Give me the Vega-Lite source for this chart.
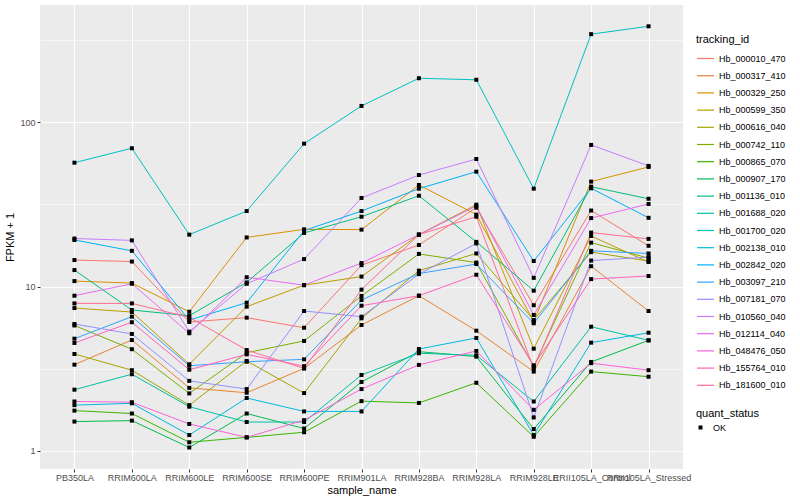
{
"$schema": "https://vega.github.io/schema/vega-lite/v6.json",
"width": 643, "height": 464,
"autosize": "none",
"padding": {"left": 40, "top": 5, "right": 117, "bottom": 31},
"background": "white",
"config": {
  "view": {"fill": "#EBEBEB", "stroke": null},
  "font": "Liberation Sans"
},
"data": {"values": [
{"tracking_id":"Hb_000010_470","sample_name":"PB350LA","fpkm1":14.5,"quant_status":"OK"},
{"tracking_id":"Hb_000010_470","sample_name":"RRIM600LA","fpkm1":14.2,"quant_status":"OK"},
{"tracking_id":"Hb_000010_470","sample_name":"RRIM600LE","fpkm1":6.09,"quant_status":"OK"},
{"tracking_id":"Hb_000010_470","sample_name":"RRIM600SE","fpkm1":6.47,"quant_status":"OK"},
{"tracking_id":"Hb_000010_470","sample_name":"RRIM600PE","fpkm1":5.62,"quant_status":"OK"},
{"tracking_id":"Hb_000010_470","sample_name":"RRIM901LA","fpkm1":13.5,"quant_status":"OK"},
{"tracking_id":"Hb_000010_470","sample_name":"RRIM928BA","fpkm1":17.9,"quant_status":"OK"},
{"tracking_id":"Hb_000010_470","sample_name":"RRIM928LA","fpkm1":30.2,"quant_status":"OK"},
{"tracking_id":"Hb_000010_470","sample_name":"RRIM928LE","fpkm1":7.7,"quant_status":"OK"},
{"tracking_id":"Hb_000010_470","sample_name":"RRII105LA_Control","fpkm1":29.0,"quant_status":"OK"},
{"tracking_id":"Hb_000010_470","sample_name":"RRII105LA_Stressed","fpkm1":17.7,"quant_status":"OK"},
{"tracking_id":"Hb_000317_410","sample_name":"PB350LA","fpkm1":3.35,"quant_status":"OK"},
{"tracking_id":"Hb_000317_410","sample_name":"RRIM600LA","fpkm1":4.73,"quant_status":"OK"},
{"tracking_id":"Hb_000317_410","sample_name":"RRIM600LE","fpkm1":2.42,"quant_status":"OK"},
{"tracking_id":"Hb_000317_410","sample_name":"RRIM600SE","fpkm1":2.26,"quant_status":"OK"},
{"tracking_id":"Hb_000317_410","sample_name":"RRIM600PE","fpkm1":3.18,"quant_status":"OK"},
{"tracking_id":"Hb_000317_410","sample_name":"RRIM901LA","fpkm1":5.84,"quant_status":"OK"},
{"tracking_id":"Hb_000317_410","sample_name":"RRIM928BA","fpkm1":8.8,"quant_status":"OK"},
{"tracking_id":"Hb_000317_410","sample_name":"RRIM928LA","fpkm1":5.39,"quant_status":"OK"},
{"tracking_id":"Hb_000317_410","sample_name":"RRIM928LE","fpkm1":3.04,"quant_status":"OK"},
{"tracking_id":"Hb_000317_410","sample_name":"RRII105LA_Control","fpkm1":13.3,"quant_status":"OK"},
{"tracking_id":"Hb_000317_410","sample_name":"RRII105LA_Stressed","fpkm1":7.1,"quant_status":"OK"},
{"tracking_id":"Hb_000329_250","sample_name":"PB350LA","fpkm1":10.8,"quant_status":"OK"},
{"tracking_id":"Hb_000329_250","sample_name":"RRIM600LA","fpkm1":10.5,"quant_status":"OK"},
{"tracking_id":"Hb_000329_250","sample_name":"RRIM600LE","fpkm1":7.03,"quant_status":"OK"},
{"tracking_id":"Hb_000329_250","sample_name":"RRIM600SE","fpkm1":19.9,"quant_status":"OK"},
{"tracking_id":"Hb_000329_250","sample_name":"RRIM600PE","fpkm1":22.3,"quant_status":"OK"},
{"tracking_id":"Hb_000329_250","sample_name":"RRIM901LA","fpkm1":22.2,"quant_status":"OK"},
{"tracking_id":"Hb_000329_250","sample_name":"RRIM928BA","fpkm1":41.5,"quant_status":"OK"},
{"tracking_id":"Hb_000329_250","sample_name":"RRIM928LA","fpkm1":27.4,"quant_status":"OK"},
{"tracking_id":"Hb_000329_250","sample_name":"RRIM928LE","fpkm1":6.12,"quant_status":"OK"},
{"tracking_id":"Hb_000329_250","sample_name":"RRII105LA_Control","fpkm1":43.5,"quant_status":"OK"},
{"tracking_id":"Hb_000329_250","sample_name":"RRII105LA_Stressed","fpkm1":53.4,"quant_status":"OK"},
{"tracking_id":"Hb_000599_350","sample_name":"PB350LA","fpkm1":7.4,"quant_status":"OK"},
{"tracking_id":"Hb_000599_350","sample_name":"RRIM600LA","fpkm1":7.0,"quant_status":"OK"},
{"tracking_id":"Hb_000599_350","sample_name":"RRIM600LE","fpkm1":3.37,"quant_status":"OK"},
{"tracking_id":"Hb_000599_350","sample_name":"RRIM600SE","fpkm1":7.55,"quant_status":"OK"},
{"tracking_id":"Hb_000599_350","sample_name":"RRIM600PE","fpkm1":10.2,"quant_status":"OK"},
{"tracking_id":"Hb_000599_350","sample_name":"RRIM901LA","fpkm1":11.5,"quant_status":"OK"},
{"tracking_id":"Hb_000599_350","sample_name":"RRIM928BA","fpkm1":20.7,"quant_status":"OK"},
{"tracking_id":"Hb_000599_350","sample_name":"RRIM928LA","fpkm1":31.5,"quant_status":"OK"},
{"tracking_id":"Hb_000599_350","sample_name":"RRIM928LE","fpkm1":4.19,"quant_status":"OK"},
{"tracking_id":"Hb_000599_350","sample_name":"RRII105LA_Control","fpkm1":20.3,"quant_status":"OK"},
{"tracking_id":"Hb_000599_350","sample_name":"RRII105LA_Stressed","fpkm1":14.1,"quant_status":"OK"},
{"tracking_id":"Hb_000616_040","sample_name":"PB350LA","fpkm1":3.89,"quant_status":"OK"},
{"tracking_id":"Hb_000616_040","sample_name":"RRIM600LA","fpkm1":3.10,"quant_status":"OK"},
{"tracking_id":"Hb_000616_040","sample_name":"RRIM600LE","fpkm1":1.90,"quant_status":"OK"},
{"tracking_id":"Hb_000616_040","sample_name":"RRIM600SE","fpkm1":3.53,"quant_status":"OK"},
{"tracking_id":"Hb_000616_040","sample_name":"RRIM600PE","fpkm1":2.25,"quant_status":"OK"},
{"tracking_id":"Hb_000616_040","sample_name":"RRIM901LA","fpkm1":6.41,"quant_status":"OK"},
{"tracking_id":"Hb_000616_040","sample_name":"RRIM928BA","fpkm1":12.5,"quant_status":"OK"},
{"tracking_id":"Hb_000616_040","sample_name":"RRIM928LA","fpkm1":15.9,"quant_status":"OK"},
{"tracking_id":"Hb_000616_040","sample_name":"RRIM928LE","fpkm1":6.26,"quant_status":"OK"},
{"tracking_id":"Hb_000616_040","sample_name":"RRII105LA_Control","fpkm1":16.2,"quant_status":"OK"},
{"tracking_id":"Hb_000616_040","sample_name":"RRII105LA_Stressed","fpkm1":14.3,"quant_status":"OK"},
{"tracking_id":"Hb_000742_110","sample_name":"PB350LA","fpkm1":5.8,"quant_status":"OK"},
{"tracking_id":"Hb_000742_110","sample_name":"RRIM600LA","fpkm1":4.16,"quant_status":"OK"},
{"tracking_id":"Hb_000742_110","sample_name":"RRIM600LE","fpkm1":2.24,"quant_status":"OK"},
{"tracking_id":"Hb_000742_110","sample_name":"RRIM600SE","fpkm1":3.96,"quant_status":"OK"},
{"tracking_id":"Hb_000742_110","sample_name":"RRIM600PE","fpkm1":4.67,"quant_status":"OK"},
{"tracking_id":"Hb_000742_110","sample_name":"RRIM901LA","fpkm1":8.77,"quant_status":"OK"},
{"tracking_id":"Hb_000742_110","sample_name":"RRIM928BA","fpkm1":15.8,"quant_status":"OK"},
{"tracking_id":"Hb_000742_110","sample_name":"RRIM928LA","fpkm1":14.0,"quant_status":"OK"},
{"tracking_id":"Hb_000742_110","sample_name":"RRIM928LE","fpkm1":3.26,"quant_status":"OK"},
{"tracking_id":"Hb_000742_110","sample_name":"RRII105LA_Control","fpkm1":18.5,"quant_status":"OK"},
{"tracking_id":"Hb_000742_110","sample_name":"RRII105LA_Stressed","fpkm1":14.9,"quant_status":"OK"},
{"tracking_id":"Hb_000865_070","sample_name":"PB350LA","fpkm1":1.76,"quant_status":"OK"},
{"tracking_id":"Hb_000865_070","sample_name":"RRIM600LA","fpkm1":1.69,"quant_status":"OK"},
{"tracking_id":"Hb_000865_070","sample_name":"RRIM600LE","fpkm1":1.13,"quant_status":"OK"},
{"tracking_id":"Hb_000865_070","sample_name":"RRIM600SE","fpkm1":1.21,"quant_status":"OK"},
{"tracking_id":"Hb_000865_070","sample_name":"RRIM600PE","fpkm1":1.30,"quant_status":"OK"},
{"tracking_id":"Hb_000865_070","sample_name":"RRIM901LA","fpkm1":2.01,"quant_status":"OK"},
{"tracking_id":"Hb_000865_070","sample_name":"RRIM928BA","fpkm1":1.96,"quant_status":"OK"},
{"tracking_id":"Hb_000865_070","sample_name":"RRIM928LA","fpkm1":2.60,"quant_status":"OK"},
{"tracking_id":"Hb_000865_070","sample_name":"RRIM928LE","fpkm1":1.22,"quant_status":"OK"},
{"tracking_id":"Hb_000865_070","sample_name":"RRII105LA_Control","fpkm1":3.04,"quant_status":"OK"},
{"tracking_id":"Hb_000865_070","sample_name":"RRII105LA_Stressed","fpkm1":2.83,"quant_status":"OK"},
{"tracking_id":"Hb_000907_170","sample_name":"PB350LA","fpkm1":1.51,"quant_status":"OK"},
{"tracking_id":"Hb_000907_170","sample_name":"RRIM600LA","fpkm1":1.53,"quant_status":"OK"},
{"tracking_id":"Hb_000907_170","sample_name":"RRIM600LE","fpkm1":1.05,"quant_status":"OK"},
{"tracking_id":"Hb_000907_170","sample_name":"RRIM600SE","fpkm1":1.69,"quant_status":"OK"},
{"tracking_id":"Hb_000907_170","sample_name":"RRIM600PE","fpkm1":1.37,"quant_status":"OK"},
{"tracking_id":"Hb_000907_170","sample_name":"RRIM901LA","fpkm1":2.63,"quant_status":"OK"},
{"tracking_id":"Hb_000907_170","sample_name":"RRIM928BA","fpkm1":4.02,"quant_status":"OK"},
{"tracking_id":"Hb_000907_170","sample_name":"RRIM928LA","fpkm1":3.75,"quant_status":"OK"},
{"tracking_id":"Hb_000907_170","sample_name":"RRIM928LE","fpkm1":1.36,"quant_status":"OK"},
{"tracking_id":"Hb_000907_170","sample_name":"RRII105LA_Control","fpkm1":3.48,"quant_status":"OK"},
{"tracking_id":"Hb_000907_170","sample_name":"RRII105LA_Stressed","fpkm1":4.71,"quant_status":"OK"},
{"tracking_id":"Hb_001136_010","sample_name":"PB350LA","fpkm1":12.6,"quant_status":"OK"},
{"tracking_id":"Hb_001136_010","sample_name":"RRIM600LA","fpkm1":7.2,"quant_status":"OK"},
{"tracking_id":"Hb_001136_010","sample_name":"RRIM600LE","fpkm1":6.65,"quant_status":"OK"},
{"tracking_id":"Hb_001136_010","sample_name":"RRIM600SE","fpkm1":10.6,"quant_status":"OK"},
{"tracking_id":"Hb_001136_010","sample_name":"RRIM600PE","fpkm1":21.2,"quant_status":"OK"},
{"tracking_id":"Hb_001136_010","sample_name":"RRIM901LA","fpkm1":26.6,"quant_status":"OK"},
{"tracking_id":"Hb_001136_010","sample_name":"RRIM928BA","fpkm1":35.7,"quant_status":"OK"},
{"tracking_id":"Hb_001136_010","sample_name":"RRIM928LA","fpkm1":18.7,"quant_status":"OK"},
{"tracking_id":"Hb_001136_010","sample_name":"RRIM928LE","fpkm1":9.44,"quant_status":"OK"},
{"tracking_id":"Hb_001136_010","sample_name":"RRII105LA_Control","fpkm1":40.5,"quant_status":"OK"},
{"tracking_id":"Hb_001136_010","sample_name":"RRII105LA_Stressed","fpkm1":34.2,"quant_status":"OK"},
{"tracking_id":"Hb_001688_020","sample_name":"PB350LA","fpkm1":2.36,"quant_status":"OK"},
{"tracking_id":"Hb_001688_020","sample_name":"RRIM600LA","fpkm1":2.93,"quant_status":"OK"},
{"tracking_id":"Hb_001688_020","sample_name":"RRIM600LE","fpkm1":1.86,"quant_status":"OK"},
{"tracking_id":"Hb_001688_020","sample_name":"RRIM600SE","fpkm1":1.50,"quant_status":"OK"},
{"tracking_id":"Hb_001688_020","sample_name":"RRIM600PE","fpkm1":1.50,"quant_status":"OK"},
{"tracking_id":"Hb_001688_020","sample_name":"RRIM901LA","fpkm1":2.90,"quant_status":"OK"},
{"tracking_id":"Hb_001688_020","sample_name":"RRIM928BA","fpkm1":3.93,"quant_status":"OK"},
{"tracking_id":"Hb_001688_020","sample_name":"RRIM928LA","fpkm1":3.82,"quant_status":"OK"},
{"tracking_id":"Hb_001688_020","sample_name":"RRIM928LE","fpkm1":2.0,"quant_status":"OK"},
{"tracking_id":"Hb_001688_020","sample_name":"RRII105LA_Control","fpkm1":5.70,"quant_status":"OK"},
{"tracking_id":"Hb_001688_020","sample_name":"RRII105LA_Stressed","fpkm1":4.71,"quant_status":"OK"},
{"tracking_id":"Hb_001700_020","sample_name":"PB350LA","fpkm1":56.7,"quant_status":"OK"},
{"tracking_id":"Hb_001700_020","sample_name":"RRIM600LA","fpkm1":69.4,"quant_status":"OK"},
{"tracking_id":"Hb_001700_020","sample_name":"RRIM600LE","fpkm1":20.7,"quant_status":"OK"},
{"tracking_id":"Hb_001700_020","sample_name":"RRIM600SE","fpkm1":28.8,"quant_status":"OK"},
{"tracking_id":"Hb_001700_020","sample_name":"RRIM600PE","fpkm1":74,"quant_status":"OK"},
{"tracking_id":"Hb_001700_020","sample_name":"RRIM901LA","fpkm1":125.5,"quant_status":"OK"},
{"tracking_id":"Hb_001700_020","sample_name":"RRIM928BA","fpkm1":185,"quant_status":"OK"},
{"tracking_id":"Hb_001700_020","sample_name":"RRIM928LA","fpkm1":181,"quant_status":"OK"},
{"tracking_id":"Hb_001700_020","sample_name":"RRIM928LE","fpkm1":39.4,"quant_status":"OK"},
{"tracking_id":"Hb_001700_020","sample_name":"RRII105LA_Control","fpkm1":343,"quant_status":"OK"},
{"tracking_id":"Hb_001700_020","sample_name":"RRII105LA_Stressed","fpkm1":383,"quant_status":"OK"},
{"tracking_id":"Hb_002138_010","sample_name":"PB350LA","fpkm1":1.90,"quant_status":"OK"},
{"tracking_id":"Hb_002138_010","sample_name":"RRIM600LA","fpkm1":1.95,"quant_status":"OK"},
{"tracking_id":"Hb_002138_010","sample_name":"RRIM600LE","fpkm1":1.25,"quant_status":"OK"},
{"tracking_id":"Hb_002138_010","sample_name":"RRIM600SE","fpkm1":2.10,"quant_status":"OK"},
{"tracking_id":"Hb_002138_010","sample_name":"RRIM600PE","fpkm1":1.74,"quant_status":"OK"},
{"tracking_id":"Hb_002138_010","sample_name":"RRIM901LA","fpkm1":1.74,"quant_status":"OK"},
{"tracking_id":"Hb_002138_010","sample_name":"RRIM928BA","fpkm1":4.17,"quant_status":"OK"},
{"tracking_id":"Hb_002138_010","sample_name":"RRIM928LA","fpkm1":4.87,"quant_status":"OK"},
{"tracking_id":"Hb_002138_010","sample_name":"RRIM928LE","fpkm1":1.25,"quant_status":"OK"},
{"tracking_id":"Hb_002138_010","sample_name":"RRII105LA_Control","fpkm1":4.56,"quant_status":"OK"},
{"tracking_id":"Hb_002138_010","sample_name":"RRII105LA_Stressed","fpkm1":5.24,"quant_status":"OK"},
{"tracking_id":"Hb_002842_020","sample_name":"PB350LA","fpkm1":19.2,"quant_status":"OK"},
{"tracking_id":"Hb_002842_020","sample_name":"RRIM600LA","fpkm1":16.5,"quant_status":"OK"},
{"tracking_id":"Hb_002842_020","sample_name":"RRIM600LE","fpkm1":6.26,"quant_status":"OK"},
{"tracking_id":"Hb_002842_020","sample_name":"RRIM600SE","fpkm1":7.98,"quant_status":"OK"},
{"tracking_id":"Hb_002842_020","sample_name":"RRIM600PE","fpkm1":21.9,"quant_status":"OK"},
{"tracking_id":"Hb_002842_020","sample_name":"RRIM901LA","fpkm1":28.8,"quant_status":"OK"},
{"tracking_id":"Hb_002842_020","sample_name":"RRIM928BA","fpkm1":39.4,"quant_status":"OK"},
{"tracking_id":"Hb_002842_020","sample_name":"RRIM928LA","fpkm1":50,"quant_status":"OK"},
{"tracking_id":"Hb_002842_020","sample_name":"RRIM928LE","fpkm1":14.3,"quant_status":"OK"},
{"tracking_id":"Hb_002842_020","sample_name":"RRII105LA_Control","fpkm1":39.6,"quant_status":"OK"},
{"tracking_id":"Hb_002842_020","sample_name":"RRII105LA_Stressed","fpkm1":26.2,"quant_status":"OK"},
{"tracking_id":"Hb_003097_210","sample_name":"PB350LA","fpkm1":4.82,"quant_status":"OK"},
{"tracking_id":"Hb_003097_210","sample_name":"RRIM600LA","fpkm1":6.56,"quant_status":"OK"},
{"tracking_id":"Hb_003097_210","sample_name":"RRIM600LE","fpkm1":3.3,"quant_status":"OK"},
{"tracking_id":"Hb_003097_210","sample_name":"RRIM600SE","fpkm1":3.49,"quant_status":"OK"},
{"tracking_id":"Hb_003097_210","sample_name":"RRIM600PE","fpkm1":3.61,"quant_status":"OK"},
{"tracking_id":"Hb_003097_210","sample_name":"RRIM901LA","fpkm1":8.28,"quant_status":"OK"},
{"tracking_id":"Hb_003097_210","sample_name":"RRIM928BA","fpkm1":12.0,"quant_status":"OK"},
{"tracking_id":"Hb_003097_210","sample_name":"RRIM928LA","fpkm1":13.7,"quant_status":"OK"},
{"tracking_id":"Hb_003097_210","sample_name":"RRIM928LE","fpkm1":5.98,"quant_status":"OK"},
{"tracking_id":"Hb_003097_210","sample_name":"RRII105LA_Control","fpkm1":16.5,"quant_status":"OK"},
{"tracking_id":"Hb_003097_210","sample_name":"RRII105LA_Stressed","fpkm1":15.9,"quant_status":"OK"},
{"tracking_id":"Hb_007181_070","sample_name":"PB350LA","fpkm1":5.92,"quant_status":"OK"},
{"tracking_id":"Hb_007181_070","sample_name":"RRIM600LA","fpkm1":5.15,"quant_status":"OK"},
{"tracking_id":"Hb_007181_070","sample_name":"RRIM600LE","fpkm1":2.67,"quant_status":"OK"},
{"tracking_id":"Hb_007181_070","sample_name":"RRIM600SE","fpkm1":2.38,"quant_status":"OK"},
{"tracking_id":"Hb_007181_070","sample_name":"RRIM600PE","fpkm1":7.1,"quant_status":"OK"},
{"tracking_id":"Hb_007181_070","sample_name":"RRIM901LA","fpkm1":6.56,"quant_status":"OK"},
{"tracking_id":"Hb_007181_070","sample_name":"RRIM928BA","fpkm1":11.9,"quant_status":"OK"},
{"tracking_id":"Hb_007181_070","sample_name":"RRIM928LA","fpkm1":18.3,"quant_status":"OK"},
{"tracking_id":"Hb_007181_070","sample_name":"RRIM928LE","fpkm1":1.60,"quant_status":"OK"},
{"tracking_id":"Hb_007181_070","sample_name":"RRII105LA_Control","fpkm1":14.4,"quant_status":"OK"},
{"tracking_id":"Hb_007181_070","sample_name":"RRII105LA_Stressed","fpkm1":15.1,"quant_status":"OK"},
{"tracking_id":"Hb_010560_040","sample_name":"PB350LA","fpkm1":19.6,"quant_status":"OK"},
{"tracking_id":"Hb_010560_040","sample_name":"RRIM600LA","fpkm1":19.1,"quant_status":"OK"},
{"tracking_id":"Hb_010560_040","sample_name":"RRIM600LE","fpkm1":5.32,"quant_status":"OK"},
{"tracking_id":"Hb_010560_040","sample_name":"RRIM600SE","fpkm1":10.4,"quant_status":"OK"},
{"tracking_id":"Hb_010560_040","sample_name":"RRIM600PE","fpkm1":14.7,"quant_status":"OK"},
{"tracking_id":"Hb_010560_040","sample_name":"RRIM901LA","fpkm1":34.6,"quant_status":"OK"},
{"tracking_id":"Hb_010560_040","sample_name":"RRIM928BA","fpkm1":47.7,"quant_status":"OK"},
{"tracking_id":"Hb_010560_040","sample_name":"RRIM928LA","fpkm1":59.7,"quant_status":"OK"},
{"tracking_id":"Hb_010560_040","sample_name":"RRIM928LE","fpkm1":11.3,"quant_status":"OK"},
{"tracking_id":"Hb_010560_040","sample_name":"RRII105LA_Control","fpkm1":72.7,"quant_status":"OK"},
{"tracking_id":"Hb_010560_040","sample_name":"RRII105LA_Stressed","fpkm1":54.2,"quant_status":"OK"},
{"tracking_id":"Hb_012114_040","sample_name":"PB350LA","fpkm1":8.8,"quant_status":"OK"},
{"tracking_id":"Hb_012114_040","sample_name":"RRIM600LA","fpkm1":10.4,"quant_status":"OK"},
{"tracking_id":"Hb_012114_040","sample_name":"RRIM600LE","fpkm1":5.2,"quant_status":"OK"},
{"tracking_id":"Hb_012114_040","sample_name":"RRIM600SE","fpkm1":11.4,"quant_status":"OK"},
{"tracking_id":"Hb_012114_040","sample_name":"RRIM600PE","fpkm1":10.2,"quant_status":"OK"},
{"tracking_id":"Hb_012114_040","sample_name":"RRIM901LA","fpkm1":13.9,"quant_status":"OK"},
{"tracking_id":"Hb_012114_040","sample_name":"RRIM928BA","fpkm1":20.7,"quant_status":"OK"},
{"tracking_id":"Hb_012114_040","sample_name":"RRIM928LA","fpkm1":30.9,"quant_status":"OK"},
{"tracking_id":"Hb_012114_040","sample_name":"RRIM928LE","fpkm1":6.72,"quant_status":"OK"},
{"tracking_id":"Hb_012114_040","sample_name":"RRII105LA_Control","fpkm1":26.1,"quant_status":"OK"},
{"tracking_id":"Hb_012114_040","sample_name":"RRII105LA_Stressed","fpkm1":31.8,"quant_status":"OK"},
{"tracking_id":"Hb_048476_050","sample_name":"PB350LA","fpkm1":2.0,"quant_status":"OK"},
{"tracking_id":"Hb_048476_050","sample_name":"RRIM600LA","fpkm1":1.98,"quant_status":"OK"},
{"tracking_id":"Hb_048476_050","sample_name":"RRIM600LE","fpkm1":1.46,"quant_status":"OK"},
{"tracking_id":"Hb_048476_050","sample_name":"RRIM600SE","fpkm1":1.21,"quant_status":"OK"},
{"tracking_id":"Hb_048476_050","sample_name":"RRIM600PE","fpkm1":1.54,"quant_status":"OK"},
{"tracking_id":"Hb_048476_050","sample_name":"RRIM901LA","fpkm1":2.38,"quant_status":"OK"},
{"tracking_id":"Hb_048476_050","sample_name":"RRIM928BA","fpkm1":3.34,"quant_status":"OK"},
{"tracking_id":"Hb_048476_050","sample_name":"RRIM928LA","fpkm1":4.06,"quant_status":"OK"},
{"tracking_id":"Hb_048476_050","sample_name":"RRIM928LE","fpkm1":1.78,"quant_status":"OK"},
{"tracking_id":"Hb_048476_050","sample_name":"RRII105LA_Control","fpkm1":3.42,"quant_status":"OK"},
{"tracking_id":"Hb_048476_050","sample_name":"RRII105LA_Stressed","fpkm1":3.10,"quant_status":"OK"},
{"tracking_id":"Hb_155764_010","sample_name":"PB350LA","fpkm1":4.54,"quant_status":"OK"},
{"tracking_id":"Hb_155764_010","sample_name":"RRIM600LA","fpkm1":6.07,"quant_status":"OK"},
{"tracking_id":"Hb_155764_010","sample_name":"RRIM600LE","fpkm1":3.12,"quant_status":"OK"},
{"tracking_id":"Hb_155764_010","sample_name":"RRIM600SE","fpkm1":3.87,"quant_status":"OK"},
{"tracking_id":"Hb_155764_010","sample_name":"RRIM600PE","fpkm1":3.28,"quant_status":"OK"},
{"tracking_id":"Hb_155764_010","sample_name":"RRIM901LA","fpkm1":7.65,"quant_status":"OK"},
{"tracking_id":"Hb_155764_010","sample_name":"RRIM928BA","fpkm1":8.8,"quant_status":"OK"},
{"tracking_id":"Hb_155764_010","sample_name":"RRIM928LA","fpkm1":11.8,"quant_status":"OK"},
{"tracking_id":"Hb_155764_010","sample_name":"RRIM928LE","fpkm1":3.32,"quant_status":"OK"},
{"tracking_id":"Hb_155764_010","sample_name":"RRII105LA_Control","fpkm1":11.1,"quant_status":"OK"},
{"tracking_id":"Hb_155764_010","sample_name":"RRII105LA_Stressed","fpkm1":11.6,"quant_status":"OK"},
{"tracking_id":"Hb_181600_010","sample_name":"PB350LA","fpkm1":7.9,"quant_status":"OK"},
{"tracking_id":"Hb_181600_010","sample_name":"RRIM600LA","fpkm1":7.9,"quant_status":"OK"},
{"tracking_id":"Hb_181600_010","sample_name":"RRIM600LE","fpkm1":6.5,"quant_status":"OK"},
{"tracking_id":"Hb_181600_010","sample_name":"RRIM600SE","fpkm1":4.11,"quant_status":"OK"},
{"tracking_id":"Hb_181600_010","sample_name":"RRIM600PE","fpkm1":3.18,"quant_status":"OK"},
{"tracking_id":"Hb_181600_010","sample_name":"RRIM901LA","fpkm1":9.58,"quant_status":"OK"},
{"tracking_id":"Hb_181600_010","sample_name":"RRIM928BA","fpkm1":20.7,"quant_status":"OK"},
{"tracking_id":"Hb_181600_010","sample_name":"RRIM928LA","fpkm1":26.6,"quant_status":"OK"},
{"tracking_id":"Hb_181600_010","sample_name":"RRIM928LE","fpkm1":3.18,"quant_status":"OK"},
{"tracking_id":"Hb_181600_010","sample_name":"RRII105LA_Control","fpkm1":21.3,"quant_status":"OK"},
{"tracking_id":"Hb_181600_010","sample_name":"RRII105LA_Stressed","fpkm1":19.5,"quant_status":"OK"}
]},
"encoding": {
  "x": {"field": "sample_name", "type": "nominal",
    "sort": ["PB350LA","RRIM600LA","RRIM600LE","RRIM600SE","RRIM600PE","RRIM901LA","RRIM928BA","RRIM928LA","RRIM928LE","RRII105LA_Control","RRII105LA_Stressed"],
    "scale": {"type": "point", "padding": 0.6},
    "axis": {"title": "sample_name", "labelAngle": 0, "labelOverlap": false, "labelBound": false,
      "domain": false, "grid": true, "gridColor": "white", "gridWidth": 1.1,
      "tickColor": "#333333", "tickSize": 3, "tickWidth": 1, "labelPadding": 1.5,
      "labelFontSize": 9, "labelColor": "#4D4D4D", "labelFont": "Liberation Sans",
      "titleFontSize": 11, "titleFontWeight": "normal", "titleColor": "black", "titlePadding": 2, "titleFont": "Liberation Sans"}},
  "y": {"field": "fpkm1", "type": "quantitative",
    "scale": {"type": "log", "domain": [0.777, 516], "nice": false, "zero": false},
    "axis": {"title": "FPKM + 1", "values": [1, 3.1623, 10, 31.623, 100, 316.23],
      "labelExpr": "(datum.value == 1 || datum.value == 10 || datum.value == 100) ? format(datum.value, 'd') : ''",
      "domain": false, "grid": true, "gridColor": "white",
      "gridWidth": {"condition": {"test": "datum.value == 1 || datum.value == 10 || datum.value == 100", "value": 1.1}, "value": 0.55},
      "tickOpacity": {"condition": {"test": "datum.value == 1 || datum.value == 10 || datum.value == 100", "value": 1}, "value": 0},
      "tickColor": "#333333", "tickSize": 3, "labelPadding": 2,
      "labelFontSize": 9, "labelColor": "#4D4D4D", "labelFont": "Liberation Sans",
      "titleFontSize": 11, "titleFontWeight": "normal", "titleColor": "black", "titlePadding": 4, "titleFont": "Liberation Sans"}}
},
"layer": [
  {"mark": {"type": "line", "strokeWidth": 1},
   "encoding": {
     "color": {"field": "tracking_id", "type": "nominal",
       "scale": {"domain": ["Hb_000010_470","Hb_000317_410","Hb_000329_250","Hb_000599_350","Hb_000616_040","Hb_000742_110","Hb_000865_070","Hb_000907_170","Hb_001136_010","Hb_001688_020","Hb_001700_020","Hb_002138_010","Hb_002842_020","Hb_003097_210","Hb_007181_070","Hb_010560_040","Hb_012114_040","Hb_048476_050","Hb_155764_010","Hb_181600_010"],
         "range": ["#F8766D","#EA8331","#D89000","#C09B00","#A3A500","#7CAE00","#39B600","#00BB4E","#00BF7D","#00C1A3","#00BFC4","#00BAE0","#00B0F6","#35A2FF","#9590FF","#C77CFF","#E76BF3","#FA62DB","#FF62BC","#FF6C91"]},
       "legend": {"title": "tracking_id", "orient": "none", "legendX": 656, "legendY": 29,
         "symbolType": "stroke", "symbolSize": 289, "symbolStrokeWidth": 1.2,
         "rowPadding": 2.2, "titlePadding": 4, "padding": 0,
         "labelFontSize": 9, "labelFont": "Liberation Sans", "labelColor": "black", "labelOffset": 4,
         "titleFontSize": 11, "titleFontWeight": "normal", "titleFont": "Liberation Sans", "titleColor": "black"}},
     "detail": {"field": "tracking_id"}
   }},
  {"mark": {"type": "point", "filled": true, "color": "black", "opacity": 1, "size": 16},
   "encoding": {
     "shape": {"field": "quant_status", "type": "nominal",
       "scale": {"domain": ["OK"], "range": ["square"]},
       "legend": {"title": "quant_status", "orient": "none", "legendX": 656, "legendY": 403,
         "symbolFillColor": "black", "symbolStrokeColor": "black", "symbolSize": 16, "symbolOpacity": 1,
         "padding": 0, "titlePadding": 4,
         "labelFontSize": 9, "labelFont": "Liberation Sans", "labelColor": "black", "labelOffset": 8,
         "titleFontSize": 11, "titleFontWeight": "normal", "titleFont": "Liberation Sans", "titleColor": "black"}}
   }}
]
}
